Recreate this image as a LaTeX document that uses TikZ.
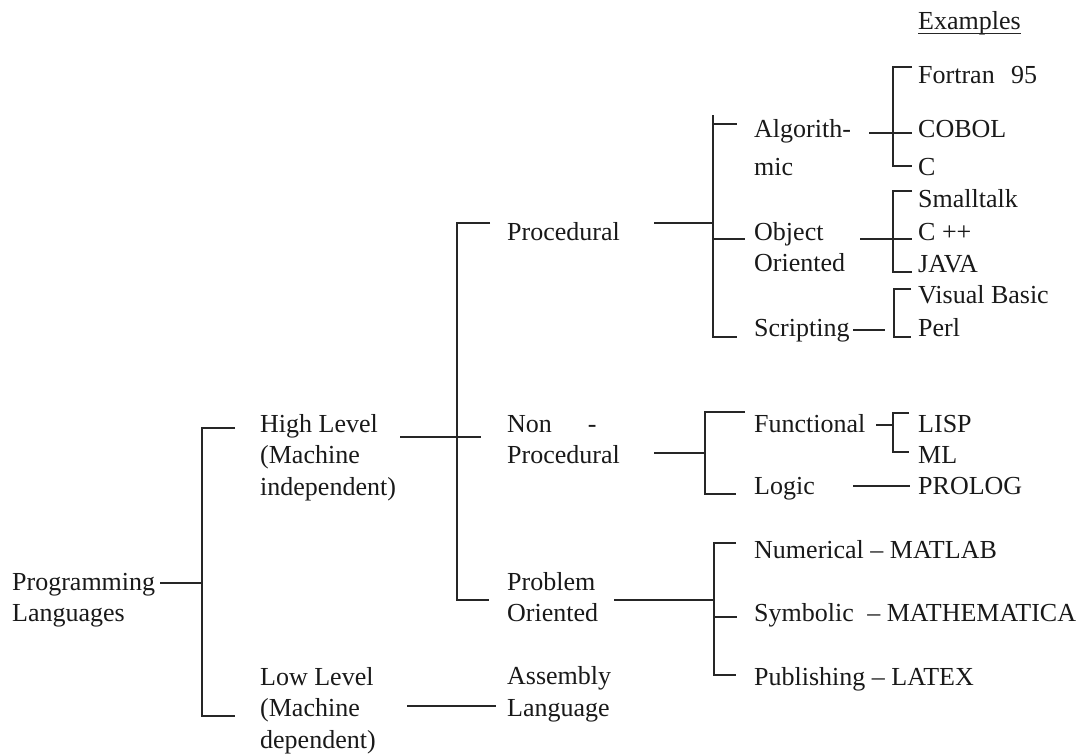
\documentclass[tikz,border=0pt]{standalone}
\usepackage{fontspec}
\setmainfont{Liberation Serif}
\begin{document}
\begin{tikzpicture}[x=1pt,y=-1pt,
  lbl/.style={anchor=base west, inner sep=0pt, align=left,
    font=\fontsize{26}{31.5}\selectfont, text=black!90},
  link/.style={line width=1.2pt, black!85}]
\useasboundingbox (0,0) rectangle (1085,755);

% ---- labels (a multi-line label is placed by the baseline of its last line) ----
\node[lbl] (pl)  at (12,621.5)  {Programming\\Languages};
\node[lbl] (hl)  at (260,495)   {High Level\\(Machine\\independent)};
\node[lbl] (ll)  at (260,748)   {Low Level\\(Machine\\dependent)};
\node[lbl] (pr)  at (507,240)   {Procedural};
\node[lbl] (np)  at (507,463.5) {Non\hspace{36pt}-\\Procedural};
\node[lbl] (po)  at (507,621.5) {Problem\\Oriented};
\node[lbl] (as)  at (507,716)   {Assembly\\Language};
\node[lbl] (al)  at (754,175)   {Algorith-\\[6.5pt]mic};
\node[lbl] (oo)  at (754,271.5) {Object\\Oriented};
\node[lbl] (sc)  at (754,336)   {Scripting};
\node[lbl] (fu)  at (754,432)   {Functional};
\node[lbl] (lo)  at (754,494)   {Logic};
\node[lbl] (nu)  at (754,558)   {Numerical – MATLAB};
\node[lbl] (sy)  at (754,621)   {Symbolic\hspace{7pt} – MATHEMATICA};
\node[lbl] (pu)  at (754,685)   {Publishing – LATEX};
\node[lbl] (ex)  at (918,29)    {Examples};
\node[lbl] (fo)  at (918,83)    {Fortran \hspace{10pt}95};
\node[lbl] (co)  at (918,137)   {COBOL};
\node[lbl] (cc)  at (918,175)   {C};
\node[lbl] (st)  at (918,207)   {Smalltalk};
\node[lbl] (cpp) at (918,240)   {C ++};
\node[lbl] (ja)  at (918,272)   {JAVA};
\node[lbl] (vb)  at (918,303)   {Visual Basic};
\node[lbl] (pe)  at (918,336)   {Perl};
\node[lbl] (li)  at (918,432)   {LISP};
\node[lbl] (ml)  at (918,463)   {ML};
\node[lbl] (pg)  at (918,494)   {PROLOG};

% heading underline
\draw[line width=1pt, black!85] ([yshift=-4pt]ex.base west) -- ([yshift=-4pt]ex.base east);

% ---- bracket spines (top / bottom ends) ----
\coordinate (b0t) at (202,428); \coordinate (b0b) at (202,716);
\coordinate (b1t) at (457,223); \coordinate (b1b) at (457,600);
\coordinate (b2t) at (713,115); \coordinate (b2b) at (713,337);
\coordinate (b3t) at (893,67);  \coordinate (b3b) at (893,166);
\coordinate (b4t) at (893,191); \coordinate (b4b) at (893,272);
\coordinate (b5t) at (894,289); \coordinate (b5b) at (894,337);
\coordinate (b6t) at (705,412); \coordinate (b6b) at (705,494);
\coordinate (b7t) at (893,413); \coordinate (b7b) at (893,452);
\coordinate (b8t) at (714,543); \coordinate (b8b) at (714,675);

% ---- outgoing line starts beside each parent label ----
\coordinate (pl-o) at (160,583);
\coordinate (hl-o) at (400,437);
\coordinate (ll-o) at (407,706);
\coordinate (pr-o) at (654,223);
\coordinate (np-o) at (654,453);
\coordinate (po-o) at (614,600);
\coordinate (al-o) at (869,133);
\coordinate (oo-o) at (860,239);
\coordinate (sc-o) at (853,330);
\coordinate (fu-o) at (876,425);
\coordinate (lo-o) at (853,486);

% Programming Languages
\draw[link] (pl-o) -- (pl-o -| b0t);
\draw[link] (b0t) ++(33,0) -- (b0t) -- (b0b) -- ++(33,0);

% High Level / Low Level
\draw[link] (hl-o) -- ++(81,0);
\draw[link] (b1t) ++(33,0) -- (b1t) -- (b1b) -- ++(32,0);
\draw[link] (ll-o) -- ++(89,0);

% Procedural
\draw[link] (pr-o) -- (pr-o -| b2t);
\draw[link] (b2t) -- (b2b) -- ++(24,0);
\draw[link] (b2t |- 0,124) -- ++(24,0);
\draw[link] (b2t |- 0,239) -- ++(32,0);

% Algorithmic
\draw[link] (al-o) -- (al-o -| b3t) -- ++(19,0);
\draw[link] (b3t) ++(19,0) -- (b3t) -- (b3b) -- ++(19,0);

% Object Oriented
\draw[link] (oo-o) -- (oo-o -| b4t) -- ++(19,0);
\draw[link] (b4t) ++(19,0) -- (b4t) -- (b4b) -- ++(19,0);

% Scripting
\draw[link] (sc-o) -- ++(32,0);
\draw[link] (b5t) ++(17,0) -- (b5t) -- (b5b) -- ++(17,0);

% Non-Procedural
\draw[link] (np-o) -- (np-o -| b6t);
\draw[link] (b6t) ++(40,0) -- (b6t) -- (b6b) -- ++(31,0);

% Functional / Logic
\draw[link] (fu-o) -- (fu-o -| b7t);
\draw[link] (b7t) ++(16,0) -- (b7t) -- (b7b) -- ++(16,0);
\draw[link] (lo-o) -- ++(57,0);

% Problem Oriented
\draw[link] (po-o) -- (po-o -| b8t);
\draw[link] (b8t) ++(22,0) -- (b8t) -- (b8b) -- ++(22,0);
\draw[link] (b8t |- 0,617) -- ++(23,0);
\end{tikzpicture}
\end{document}
